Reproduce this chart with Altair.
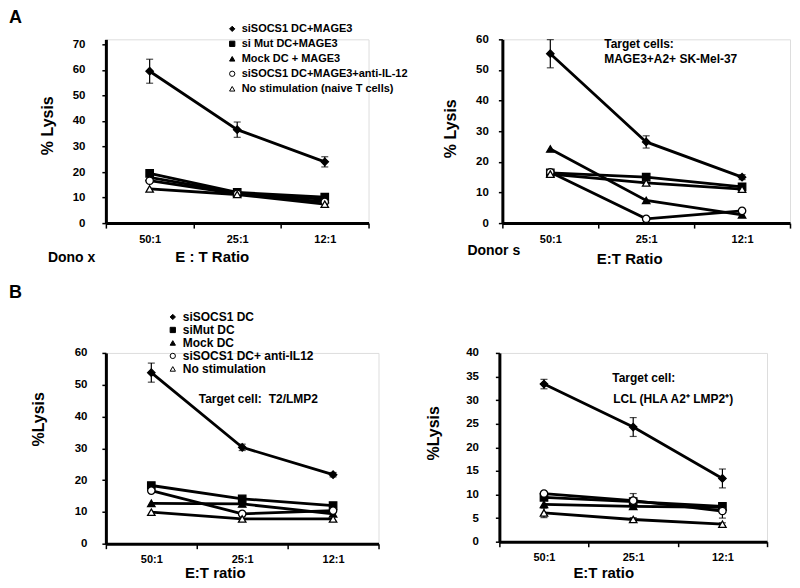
import altair as alt
import pandas as pd

FONT = "Liberation Sans"

ratios = ["50:1", "25:1", "12:1"]

series_a = ["siSOCS1 DC+MAGE3", "si Mut DC+MAGE3", "Mock DC + MAGE3",
            "siSOCS1 DC+MAGE3+anti-IL-12", "No stimulation (naive T cells)"]
series_b = ["siSOCS1 DC", "siMut DC", "Mock DC", "siSOCS1 DC+ anti-IL12", "No stimulation"]

marker_shapes = ["diamond", "square", "triangle-up", "circle", "triangle-up"]
marker_fills = ["black", "black", "black", "white", "white"]
marker_strokes = ["black", "black", "black", "black", "black"]

# Panel A, donor x (target: MAGE3)
ax_sisocs1 = [59.5, 36.6, 24.0]
ax_simut = [19.5, 12.0, 10.2]
ax_mock = [17.9, 11.8, 9.3]
ax_anti = [16.6, 11.5, 8.3]
ax_nostim = [13.4, 11.2, 7.4]
ax_err_sisocs1 = [4.7, 3.0, 2.0]

# Panel A, donor s (target: SK-Mel-37)
as_sisocs1 = [55.3, 26.5, 15.0]
as_simut = [16.4, 15.0, 11.8]
as_mock = [24.2, 7.4, 2.7]
as_anti = [16.6, 1.4, 4.0]
as_nostim = [16.0, 13.1, 11.1]
as_err_sisocs1 = [4.6, 2.0, 0.8]

# Panel B, T2/LMP2
bt_sisocs1 = [53.8, 30.3, 21.7]
bt_simut = [18.3, 14.1, 12.0]
bt_mock = [12.7, 12.5, 9.4]
bt_anti = [16.7, 9.4, 10.4]
bt_nostim = [9.9, 7.8, 7.8]
bt_err_sisocs1 = [3.0, 1.0, 0.7]

# Panel B, LCL
bl_sisocs1 = [33.4, 24.3, 13.4]
bl_simut = [9.4, 8.5, 7.5]
bl_mock = [7.9, 7.5, 7.3]
bl_anti = [10.2, 8.7, 6.5]
bl_nostim = [6.1, 4.7, 3.7]
bl_err_sisocs1 = [1.0, 2.0, 2.0]
bl_err_anti = [0.3, 1.5, 1.5]
bl_err_nostim = [1.0, 0.4, 0.3]

ZERO = [0, 0, 0]


def build_df(series, values, errs):
    rows = []
    for s, vals, er in zip(series, values, errs):
        for i, (r, v, e) in enumerate(zip(ratios, vals, er)):
            rows.append({"series": s, "ratio": r, "xi": i, "y": v,
                         "lo": v - e, "hi": v + e, "err": e})
    return pd.DataFrame(rows)


def label(text, x, y, size, weight="bold", align="left", baseline="middle"):
    return alt.Chart(pd.DataFrame({"t": [text]})).mark_text(
        text=text, font=FONT, fontSize=size, fontWeight=weight, color="black",
        align=align, baseline=baseline
    ).encode(x=alt.value(x), y=alt.value(y))


def panel(df, series, width, height, ymax, yvals, ylab_pad, ytitle, ytx, yty,
          xtitle, xtx, xty, legend, extras):
    xscale = alt.Scale(type="band", domain=ratios, paddingInner=0, paddingOuter=0)
    xaxis = alt.Axis(title=xtitle, labelAngle=0, tickBand="extent",
                     domainWidth=3, domainColor="black", tickColor="black",
                     tickSize=5, tickWidth=1.5, labelFont=FONT, labelFontSize=11,
                     labelFontWeight="bold", labelColor="black", labelPadding=5,
                     titleFont=FONT, titleFontSize=15, titleFontWeight="bold",
                     titleColor="black", titleX=xtx, titleY=xty,
                     titleBaseline="middle", titleAlign="center", grid=False)
    yscale = alt.Scale(domain=[0, ymax], nice=False, zero=True)
    yaxis = alt.Axis(title=ytitle, values=yvals, grid=False, domainWidth=3,
                     domainColor="black", tickColor="black", tickSize=4,
                     tickWidth=1.5, labelFont=FONT, labelFontSize=11.5,
                     labelFontWeight="bold", labelColor="black",
                     labelOverlap=False, labelFlush=False,
                     labelPadding=ylab_pad, titleFont=FONT, titleFontSize=16,
                     titleFontWeight="bold", titleColor="black",
                     titleX=ytx, titleY=yty, titleBaseline="middle",
                     titleAlign="center")

    def X():
        return alt.X("ratio:N", sort=ratios, scale=xscale, axis=xaxis)

    def Y(field):
        return alt.Y(field + ":Q", scale=yscale, axis=yaxis)

    base = alt.Chart(df)
    lines = base.mark_line(color="black", strokeWidth=2.8).encode(
        x=X(), y=Y("y"), detail="series:N", order="xi:Q")
    errdf = df[df["err"] > 0]
    eb = alt.Chart(errdf)
    rules = eb.mark_rule(color="black", strokeWidth=1.2).encode(
        x=X(), y=Y("lo"), y2="hi:Q")
    caps_hi = eb.mark_tick(color="black", size=7, thickness=1.2, orient="horizontal").encode(
        x=X(), y=Y("hi"))
    caps_lo = eb.mark_tick(color="black", size=7, thickness=1.2, orient="horizontal").encode(
        x=X(), y=Y("lo"))
    pts = base.mark_point(filled=False, strokeWidth=1.3, size=55, opacity=1).encode(
        x=X(), y=Y("y"),
        shape=alt.Shape("series:N", sort=series,
                        scale=alt.Scale(domain=series, range=marker_shapes), legend=legend),
        fill=alt.Fill("series:N", sort=series,
                      scale=alt.Scale(domain=series, range=marker_fills), legend=legend),
        stroke=alt.Stroke("series:N", sort=series,
                          scale=alt.Scale(domain=series, range=marker_strokes), legend=legend),
        fillOpacity=alt.value(1),
    )
    return alt.layer(lines, rules, caps_hi, caps_lo, pts, *extras).properties(
        width=width, height=height)


def make_legend(x, y, size, rowpad):
    return alt.Legend(title=None, orient="none", legendX=x, legendY=y, labelFont=FONT,
                      labelFontSize=size, labelFontWeight="bold", labelColor="black",
                      symbolSize=28, symbolStrokeWidth=1,
                      labelLimit=400, rowPadding=rowpad, labelOffset=4, padding=0)


df_ax = build_df(series_a, [ax_sisocs1, ax_simut, ax_mock, ax_anti, ax_nostim],
                 [ax_err_sisocs1, ZERO, ZERO, ZERO, ZERO])
df_as = build_df(series_a, [as_sisocs1, as_simut, as_mock, as_anti, as_nostim],
                 [as_err_sisocs1, ZERO, ZERO, ZERO, ZERO])
df_bt = build_df(series_b, [bt_sisocs1, bt_simut, bt_mock, bt_anti, bt_nostim],
                 [bt_err_sisocs1, ZERO, ZERO, ZERO, ZERO])
df_bl = build_df(series_b, [bl_sisocs1, bl_simut, bl_mock, bl_anti, bl_nostim],
                 [bl_err_sisocs1, ZERO, ZERO, bl_err_anti, bl_err_nostim])

pA1 = panel(df_ax, series_a, 263, 184, 72, [0, 10, 20, 30, 40, 50, 60, 70], 17,
            "% Lysis", -58, 86, "E : T Ratio", 106, 33,
            make_legend(121, -16, 11, 3),
            [label("A", -97, -30, 18, align="left", baseline="top"),
             label("Dono x", -58, 219, 14)])
pA2 = panel(df_as, series_a, 288, 184, 60, [0, 10, 20, 30, 40, 50, 60], 10,
            "% Lysis", -52, 89, "E:T Ratio", 127, 35, None,
            [label("Target cells:", 102, 5, 12),
             label("MAGE3+A2+ SK-Mel-37", 102, 20, 12),
             label("Donor s", -35, 212, 14)])
pB1 = panel(df_bt, series_b, 273, 191, 60, [0, 10, 20, 30, 40, 50, 60], 15,
            "%Lysis", -67, 66, "E:T ratio", 109, 29,
            make_legend(61, -42, 12, 1),
            [label("B", -97, -69, 18, align="left", baseline="top"),
             label("Target cell:", 93, 46, 12),
             label("T2/LMP2", 163, 46, 12)])
pB2 = panel(df_bl, series_b, 268, 189, 40, [0, 5, 10, 15, 20, 25, 30, 35, 40], 17,
            "%Lysis", -66, 80, "E:T ratio", 104, 31, None,
            [label("Target cell:", 113, 25, 12),
             label("LCL (HLA A2\u207a LMP2\u207a)", 114, 46, 12)])

RES = dict(shape="independent", fill="independent", stroke="independent")

top = alt.hconcat(pA1, pA2, spacing=134, bounds="flush").resolve_scale(
    **RES).resolve_legend(**RES)
bottom = alt.hconcat(pB1, pB2, spacing=121, bounds="flush").resolve_scale(
    **RES).resolve_legend(**RES)

chart = alt.vconcat(top, bottom, spacing=314, bounds="flush").resolve_scale(
    **RES).resolve_legend(**RES).properties(
    padding={"left": 0, "top": 0, "right": 0, "bottom": 0},
    background="white"
).configure_view(stroke=None).configure(font=FONT)

chart.save("out.html", embed_options={"renderer": "svg", "actions": False})
